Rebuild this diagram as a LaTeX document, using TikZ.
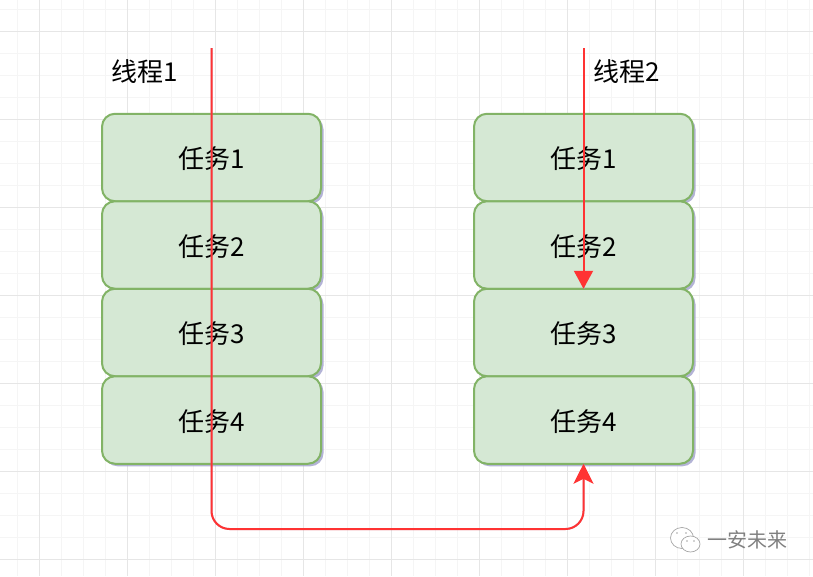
\documentclass[tikz,border=0pt]{standalone}
\usepackage{fontspec}
\setmainfont{Noto Sans CJK SC}
\usetikzlibrary{positioning,shadows,arrows.meta}

\definecolor{gridmajor}{HTML}{E6E6E6}
\definecolor{gridminor}{HTML}{F5F5F5}
\definecolor{taskfill}{HTML}{D5E8D4}
\definecolor{taskline}{HTML}{82B366}
\definecolor{threadred}{HTML}{FF3333}
\definecolor{shadowblue}{HTML}{A0A0CC}

\tikzset{
  task/.style={draw=taskline, fill=taskfill, line width=2pt, rounded corners=13pt,
    minimum width=219pt, minimum height=87.5pt, inner sep=0pt, outer sep=0pt,
    font=\fontsize{26}{31}\selectfont, text height=22pt, text depth=0pt,
    drop shadow={shadow xshift=2.5pt, shadow yshift=-2.5pt, fill=shadowblue, opacity=.8}},
  threadlabel/.style={font=\fontsize{26}{31}\selectfont, inner sep=0pt, text height=18pt, text depth=0pt},
  thread/.style={draw=threadred, line width=2pt},
  threadshadow/.style={draw=shadowblue, opacity=.5, line width=2pt, xshift=2.5pt, yshift=-2.5pt},
}

\begin{document}
\begin{tikzpicture}[x=1pt,y=-1pt]
\useasboundingbox (0,0) rectangle (813,576);

% grid
\foreach \gx in {17.5,39.5,...,810} {\draw[gridminor, line width=.8pt] (\gx,0) -- (\gx,576);}
\foreach \gy in {9.5,31.5,...,575} {\draw[gridminor, line width=.8pt] (0,\gy) -- (813,\gy);}
\foreach \gx in {39.5,127.5,...,810} {\draw[gridmajor, line width=.8pt] (\gx,0) -- (\gx,576);}
\foreach \gy in {31.5,119.5,...,575} {\draw[gridmajor, line width=.8pt] (0,\gy) -- (813,\gy);}

% first column
\node[task] (a1) at (211.5,157.5) {任务1};
\node[task, below = 0pt of a1] (a2) {任务2};
\node[task, below = 0pt of a2] (a3) {任务3};
\node[task, below = 0pt of a3] (a4) {任务4};

% second column
\node[task] (b1) at (583.5,157.5) {任务1};
\node[task, below = 0pt of b1] (b2) {任务2};
\node[task, below = 0pt of b2] (b3) {任务3};
\node[task, below = 0pt of b3] (b4) {任务4};

\node[threadlabel] (l1) at (144.5,72) {线程1};
\node[threadlabel] (l2) at (627,72) {线程2};

% free ends of the threads
\coordinate (s1) at (211.5,48);
\coordinate (s2) at (583.5,48);
\coordinate (c1) at (211.5,529);
\coordinate (c2) at (583.5,529);

% shadows of the threads
\draw[threadshadow, rounded corners=18pt] (s1) -- (c1) -- (c2) -- (b4.south);
\draw[threadshadow] (s2) -- (b3.north);

% connect nodes
\draw[thread, rounded corners=18pt, -{Stealth[length=20pt,width=20pt,inset=5pt]}] (s1) -- (c1) -- (c2) -- (b4.south);
\draw[thread, -{Triangle[length=18pt,width=19pt]}] (s2) -- (b3.north);

% watermark
\node[font=\fontsize{20}{24}\selectfont, text=gray, inner sep=0pt] (mark) at (747,540) {一安未来};
\draw[gray!70, line width=.7pt, fill=white] (682,538) ellipse (11.5pt and 10.5pt);
\draw[gray!70, line width=.7pt, fill=white] (690.5,544) ellipse (9.5pt and 8pt);
\foreach \dx/\dy in {677/533,686/533,687/541,694/541} {\fill[gray!70] (\dx,\dy) circle (.9pt);}
\end{tikzpicture}
\end{document}
